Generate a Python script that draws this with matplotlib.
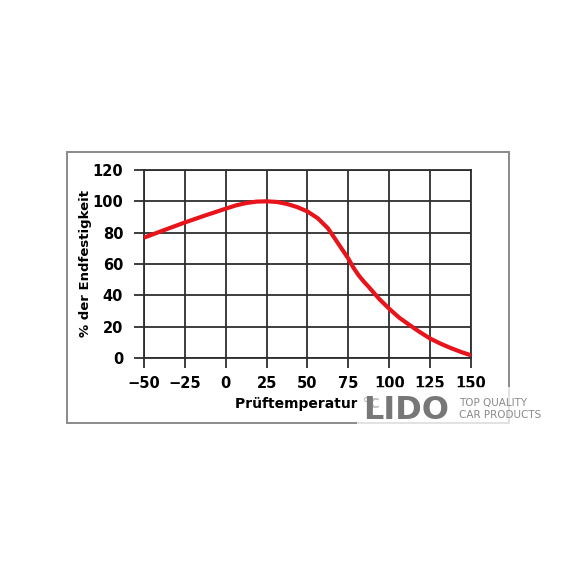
import numpy as np
import matplotlib
matplotlib.use('Agg')
import matplotlib.pyplot as plt
from matplotlib.patches import Rectangle

# Prüftemperatur (°C) vs % der Endfestigkeit
temp = [-50, -37.5, -25, -12.5, 0, 6.25, 12.5, 18.75, 25, 31.25, 37.5, 43.75, 50,
        56.25, 62.5, 68.75, 75, 78, 81.25, 84.5, 87.5, 93.75, 100, 106.25, 112.5, 118.75,
        125, 131.25, 137.5, 143.75, 150]
strength = [76.8, 81.7, 86.5, 91.0, 95.3, 97.4, 98.9, 99.8, 100.0, 99.6, 98.3, 96.3,
            93.5, 89.2, 82.8, 73.1, 63.4, 57.8, 52.8, 48.7, 45.3, 37.8, 31.4, 25.6, 21.0,
            16.5, 12.4, 9.2, 6.4, 3.9, 1.7]
xticks = [-50, -25, 0, 25, 50, 75, 100, 125, 150]
yticks = [0, 20, 40, 60, 80, 100, 120]

plt.rcParams['font.family'] = 'DejaVu Sans'
gridcol = '#2e2e2e'

fig = plt.figure(figsize=(5.76, 5.76), dpi=100)
fig.patch.set_facecolor('white')

# outer frame round the whole chart
fig.patches.append(Rectangle((0.1163, 0.2656), 0.7674, 0.4705, transform=fig.transFigure,
                             fill=False, edgecolor='#8a8a8a', linewidth=1.4))

ax = fig.add_axes([0.25, 0.3785, 0.5677, 0.3264])
ax.plot(temp, strength, color='#e8141c', linewidth=3.0, solid_joinstyle='round',
        solid_capstyle='butt', zorder=3)

ax.set_xlim(-50, 150)
ax.set_ylim(0, 120)
ax.set_xticks(xticks)
ax.set_yticks(yticks)
ax.set_xticklabels([str(t).replace('-', '\u2212') for t in xticks])
ax.grid(True, color=gridcol, linewidth=1.3)
for s in ax.spines.values():
    s.set_color(gridcol)
    s.set_linewidth(1.3)
ax.tick_params(length=7, width=1.3, color=gridcol, labelsize=10.5, pad=6)
ax.tick_params(axis='y', pad=8)
for lbl in ax.get_xticklabels() + ax.get_yticklabels():
    lbl.set_fontweight('bold')
ax.set_ylabel('% der Endfestigkeit', fontsize=9.5, fontweight='bold')
ax.yaxis.set_label_coords(-0.158, 0.5)
ax.set_xlabel('Prüftemperatur °C', fontsize=10, fontweight='bold')
ax.xaxis.set_label_coords(0.5, -0.21)

# watermark
fig.patches.append(Rectangle((0.62, 0.262), 0.32, 0.066, transform=fig.transFigure,
                             facecolor='white', edgecolor='none', alpha=0.75, zorder=5))
fig.text(0.705, 0.288, 'LIDO', fontsize=23, fontweight='bold', color='#777777',
         ha='center', va='center', zorder=6)
fig.text(0.797, 0.3, 'TOP QUALITY', fontsize=7.5, color='#8a8a8a', ha='left',
         va='center', zorder=6)
fig.text(0.797, 0.279, 'CAR PRODUCTS', fontsize=7.5, color='#8a8a8a', ha='left',
         va='center', zorder=6)

fig.savefig('out.png', dpi=100)
